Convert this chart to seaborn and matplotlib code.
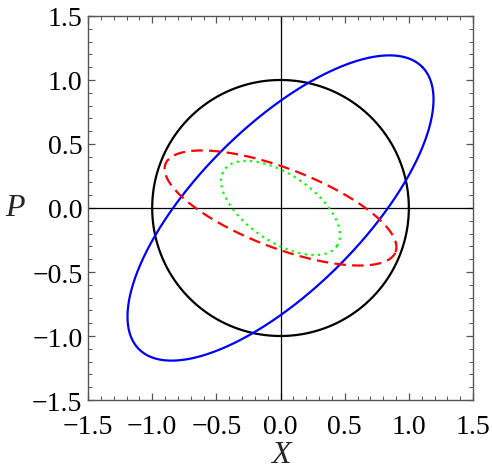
import numpy as np
import matplotlib
matplotlib.use("Agg")
import matplotlib.pyplot as plt
from matplotlib.ticker import MultipleLocator, FixedLocator
import seaborn as sns

# ellipses (semi-axes and tilt of the major axis)
curve_names = ["circle", "blue", "red", "green"]
semi_major = [1.0, 1.56, 0.96, 0.53]
semi_minor = [1.0, 0.64, 0.31, 0.263]
tilt_deg = [0.0, 45.0, -21.0, -34.0]

tick_values = [-1.5, -1.0, -0.5, 0.0, 0.5, 1.0, 1.5]
tick_labels = ["\u22121.5", "\u22121.0", "\u22120.5", "0.0", "0.5", "1.0", "1.5"]

colors = ["black", "#0000ff", "#ff0000", "#00ff00"]
styles = ["-", "-", (0, (5.2, 2.8)), (0, (1.0, 2.0))]

sns.set_theme(style="white")
plt.rcParams["font.family"] = ["Liberation Serif", "DejaVu Serif"]

fig = plt.figure(figsize=(4.92, 4.77), dpi=100)
ax = fig.add_axes([0.1789, 0.1593, 0.7825, 0.8051])

# coordinate axes through the origin
ax.axhline(0, color="black", lw=0.9, zorder=1)
ax.axvline(0, color="black", lw=0.9, zorder=1)

t = np.linspace(0, 2 * np.pi, 500)
for name, a, b, ang, c, ls in zip(curve_names, semi_major, semi_minor, tilt_deg, colors, styles):
    th = np.deg2rad(ang)
    xs = a * np.cos(t) * np.cos(th) - b * np.sin(t) * np.sin(th)
    ys = a * np.cos(t) * np.sin(th) + b * np.sin(t) * np.cos(th)
    sns.lineplot(x=xs, y=ys, ax=ax, sort=False, estimator=None,
                 color=c, linestyle=ls, lw=1.6, zorder=3)

ax.set_xlim(-1.5, 1.5)
ax.set_ylim(-1.5, 1.5)

ax.xaxis.set_major_locator(FixedLocator(tick_values))
ax.yaxis.set_major_locator(FixedLocator(tick_values))
ax.set_xticklabels(tick_labels)
ax.set_yticklabels(tick_labels)
ax.xaxis.set_minor_locator(MultipleLocator(0.1))
ax.yaxis.set_minor_locator(MultipleLocator(0.1))

frame_col = "#555555"
for sp in ax.spines.values():
    sp.set_color(frame_col)
    sp.set_linewidth(1.0)
    sp.set_visible(True)
ax.tick_params(which="both", direction="in", top=True, right=True,
               bottom=True, left=True, color=frame_col, labelsize=20,
               labelcolor="black")
ax.tick_params(which="major", length=5, width=0.9)
ax.tick_params(which="minor", length=3, width=0.7)
ax.tick_params(axis="x", which="major", pad=10)
ax.tick_params(axis="y", which="major", pad=4)

ax.set_xlabel("X", fontsize=23, style="italic", labelpad=1)
ax.set_ylabel("P", fontsize=23, style="italic", rotation=0, labelpad=12, va="center")

fig.savefig("out.png", dpi=100)
